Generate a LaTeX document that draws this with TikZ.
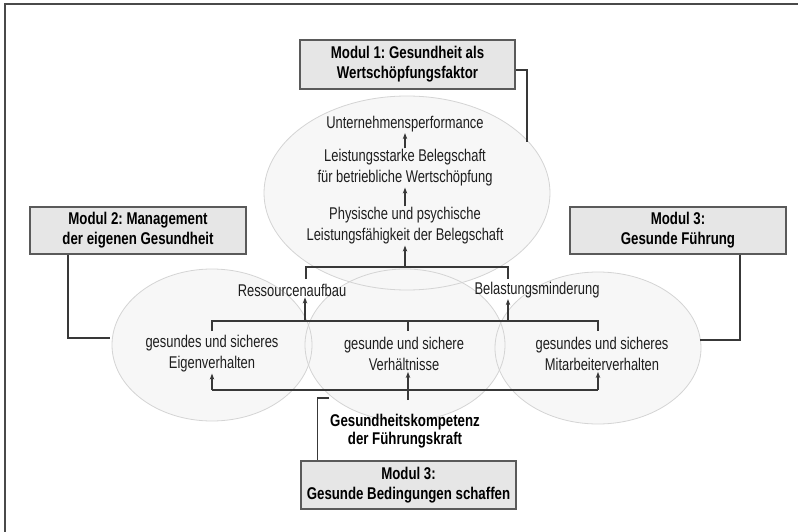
\documentclass[tikz,border=0pt]{standalone}
\usepackage{fontspec}
\setmainfont{Liberation Sans}[FakeStretch=0.76]
\newfontfamily\boldcond{Liberation Sans}[FakeStretch=0.78]
\usetikzlibrary{shapes.geometric,arrows.meta}
\definecolor{linegray}{HTML}{383838}
\definecolor{framegray}{HTML}{4A4A4A}
\definecolor{textgray}{HTML}{1E1E1E}
\definecolor{boxfill}{HTML}{E6E6E6}
\definecolor{boxline}{HTML}{5A5A5A}
\definecolor{bubbleline}{HTML}{D4D4D4}
\definecolor{bubblefill}{HTML}{F7F7F7}
\frenchspacing
\begin{document}
\begin{tikzpicture}[x=1pt,y=-1pt,
  modbox/.style={draw=boxline, line width=1.2pt, fill=boxfill, align=center,
    font=\boldcond\fontsize{17}{20}\selectfont\bfseries, inner sep=0pt},
  bubble/.style={ellipse, draw=bubbleline, line width=0.8pt, inner sep=0pt},
  lbl/.style={align=center, text=textgray, font=\fontsize{17}{21}\selectfont, inner sep=1pt},
  boldlbl/.style={align=center, font=\boldcond\fontsize{17}{18.5}\selectfont\bfseries, inner sep=1pt},
  conn/.style={draw=linegray, line width=1.4pt},
  arr/.style={conn, -{Stealth[length=6pt,width=4.5pt]}},
]
\useasboundingbox (0,0) rectangle (798,532);

% outer frame
\draw[line width=2pt, draw=framegray] (5,532) -- (5,4) -- (798,4);

% bubble fills first, outlines afterwards so overlaps keep every edge
\fill[bubblefill] (407,193) ellipse [x radius=143pt, y radius=97pt];
\fill[bubblefill] (212,345) ellipse [x radius=100pt, y radius=76pt];
\fill[bubblefill] (405,345) ellipse [x radius=100pt, y radius=76pt];
\fill[bubblefill] (598,348) ellipse [x radius=103pt, y radius=76pt];
\node[bubble, minimum width=286pt, minimum height=194pt] (btop) at (407,193) {};
\node[bubble, minimum width=200pt, minimum height=152pt] (bleft) at (212,345) {};
\node[bubble, minimum width=200pt, minimum height=152pt] (bmid) at (405,345) {};
\node[bubble, minimum width=206pt, minimum height=152pt] (bright) at (598,348) {};

% module boxes
\node[modbox, minimum width=215pt, minimum height=49pt] (m1) at (407.5,64.5)
  {Modul 1: Gesundheit als\\Wertschöpfungsfaktor};
\node[modbox, minimum width=216pt, minimum height=47pt] (m2) at (138,230.5)
  {Modul 2: Management\\der eigenen Gesundheit};
\node[modbox, minimum width=216pt, minimum height=47pt] (m3r) at (678,230.5)
  {Modul 3:\\Gesunde Führung};
\node[modbox, minimum width=215pt, minimum height=48pt] (m3b) at (408.5,485)
  {Modul 3:\\Gesunde Bedingungen schaffen};

% labels
\node[lbl] (perf) at (405,124) {Unternehmensperformance};
\node[lbl] (staff) at (405,168) {Leistungsstarke Belegschaft\\für betriebliche Wertschöpfung};
\node[lbl] (fit) at (405,226) {Physische und psychische\\Leistungsfähigkeit der Belegschaft};
\node[lbl] (res) at (292,290) {Ressourcenaufbau};
\node[lbl] (bel) at (537,290) {Belastungsminderung};
\node[lbl] (own) at (212,354) {gesundes und sicheres\\Eigenverhalten};
\node[lbl] (cond) at (404,354) {gesunde und sichere\\Verhältnisse};
\node[lbl] (emp) at (602,354) {gesundes und sicheres\\Mitarbeiterverhalten};
\node[boldlbl] (comp) at (405,431) {Gesundheitskompetenz\\der Führungskraft};

% chain inside the top bubble
\draw[arr] (staff.north) -- (perf.south);
\draw[arr] (fit.north) -- (staff.south);

% upper bracket joining both effects
\coordinate (jl) at (306,267);
\coordinate (jr) at (508,267);
\coordinate (jc) at (405,267);
\draw[conn] (306,279) -- (jl) -- (jr) -- (508,279);
\draw[arr] (jc) -- (fit.south);

% middle bracket over the three behaviour bubbles
\coordinate (ml) at (212,321);
\coordinate (mr) at (598,321);
\coordinate (mc) at (408,321);
\draw[conn] (212,331) -- (ml) -- (mr) -- (598,331);
\draw[conn] (mc) -- (408,331);
\coordinate (ra) at (305,321);
\coordinate (ba) at (508,321);
\draw[arr] (ra) -- (ra |- res.south);
\draw[arr] (ba) -- (ba |- bel.south);

% lower bracket fed by the leader's competence
\coordinate (bl) at (212,390);
\coordinate (br) at (598,390);
\coordinate (bc) at (408,400);
\draw[conn] (bl) -- (br);
\draw[arr] (bl) -- (bl |- own.south);
\draw[arr] (br) -- (br |- emp.south);
\draw[arr] (bc) -- (bc |- cond.south);

% module leader lines
\coordinate (m1e) at (527,142);
\draw[conn] ([yshift=-5.5pt]m1.east) -| (m1e);
\coordinate (m2e) at (110,338);
\draw[conn] ([xshift=-70pt]m2.south) |- (m2e);
\coordinate (m3e) at (700,340);
\draw[conn] ([xshift=62pt]m3r.south) |- (m3e);
\coordinate (kt) at (329,398);
\draw[conn] (kt) -| ([xshift=17pt]m3b.north west);
\end{tikzpicture}
\end{document}
